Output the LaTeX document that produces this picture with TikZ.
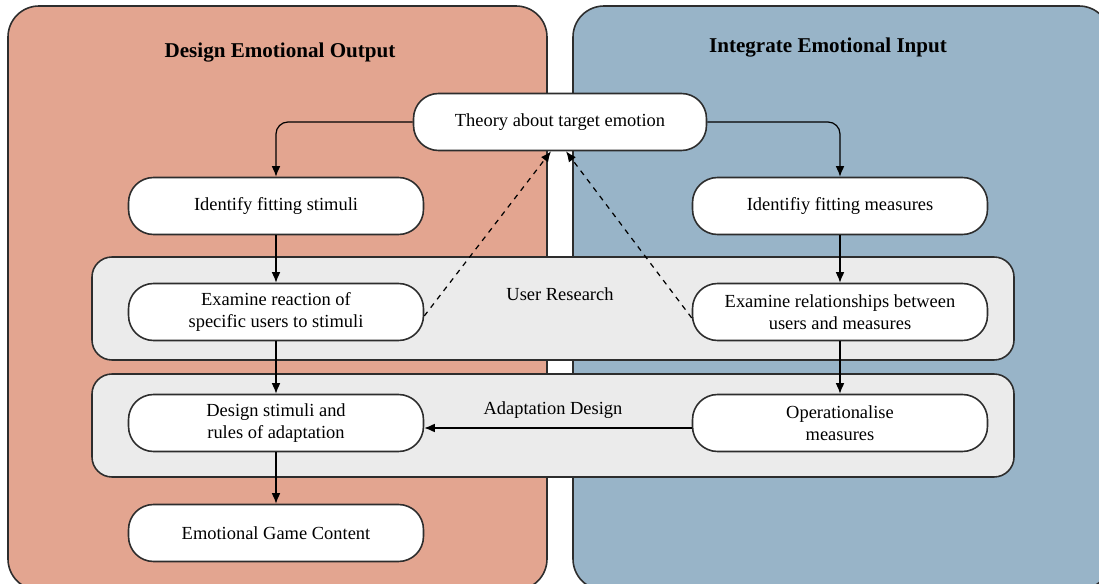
\documentclass[tikz,border=0pt]{standalone}
\usepackage{fontspec}
\setmainfont{Liberation Serif}
\usetikzlibrary{arrows.meta}
\definecolor{salmon}{RGB}{227,165,144}
\definecolor{steel}{RGB}{152,180,200}
\definecolor{band}{RGB}{235,235,235}
\definecolor{edge}{RGB}{45,45,45}
\tikzset{
  panel/.style={draw=edge, line width=0.9pt, rounded corners=0.62cm},
  bandbox/.style={draw=edge, fill=band, line width=0.9pt, rounded corners=0.4cm},
  stepbox/.style={draw=edge, fill=white, line width=0.9pt, rounded corners=0.5cm,
     minimum width=5.9cm, minimum height=1.14cm, align=center,
     font=\fontsize{10.5}{12.5}\selectfont},
  title/.style={font=\fontsize{12}{14}\selectfont\bfseries},
  bandlabel/.style={font=\fontsize{10.5}{12.5}\selectfont},
  arr/.style={-{Latex[length=6pt,width=5pt]}, line width=0.7pt},
  darr/.style={-{Latex[length=6pt,width=5pt]}, line width=0.7pt, dashed}
}
\begin{document}
\begin{tikzpicture}[x=0.02cm,y=-0.02cm]
\useasboundingbox (0,0) rectangle (1099,584);
\clip (0,0) rectangle (1099,584);
% panels
\draw[panel, fill=salmon] (8,6) rectangle (547,590);
\draw[panel, fill=steel] (573,6) rectangle (1110,590);
\node[title] (tleft) at (280,53) {Design Emotional Output};
\node[title] (tright) at (828,48) {Integrate Emotional Input};
% bands
\draw[bandbox] (92,257) rectangle (1014,360);
\draw[bandbox] (92,374) rectangle (1014,477);
\node[bandlabel] (ur) at (560,294) {User Research};
\node[bandlabel] (ad) at (553,410) {Adaptation Design};
% nodes
\node[stepbox, minimum width=5.86cm] (theory) at (560,122) {Theory about target emotion};
\node[stepbox] (stim) at (276,206) {Identify fitting stimuli};
\node[stepbox] (meas) at (840,206) {Identifiy fitting measures};
\node[stepbox] (react) at (276,312) {Examine reaction of\\specific users to stimuli};
\node[stepbox] (rel) at (840,312) {Examine relationships between\\users and measures};
\node[stepbox] (design) at (276,423) {Design stimuli and\\rules of adaptation};
\node[stepbox] (oper) at (840,423) {Operationalise\\measures};
\node[stepbox] (game) at (276,533) {Emotional Game Content};
% connectors
\draw[arr, rounded corners=0.24cm] (theory.west) -| (stim.north);
\draw[arr, rounded corners=0.24cm] (theory.east) -| (meas.north);
\draw[arr] (stim) -- (react);
\draw[arr] (react) -- (design);
\draw[arr] (design) -- (game);
\draw[arr] (meas) -- (rel);
\draw[arr] (rel) -- (oper);
\draw[arr] ([yshift=-0.1cm]oper.west) -- ([yshift=-0.1cm]design.east);
\draw[darr] ([yshift=-0.08cm]react.east) -- ([xshift=-0.18cm]theory.south);
\draw[darr] ([yshift=-0.12cm]rel.west) -- ([xshift=0.12cm]theory.south);
\end{tikzpicture}
\end{document}
